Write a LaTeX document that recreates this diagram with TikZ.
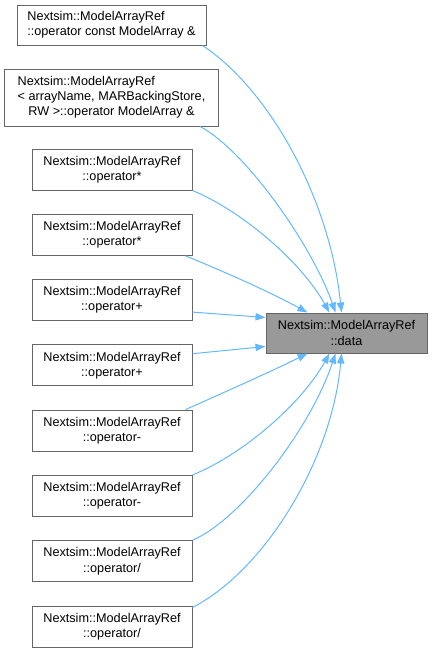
\documentclass[tikz,border=0pt]{standalone}
\usepackage{fontspec}
\setmainfont{Liberation Sans}
\usetikzlibrary{arrows.meta,calc}
\definecolor{edgeblue}{HTML}{63B8FF}
\definecolor{boxborder}{HTML}{666666}
\definecolor{datafill}{HTML}{999999}
\begin{document}
\begin{tikzpicture}[x=0.75pt,y=-0.75pt,
  every node/.style={font=\fontsize{9.5}{11.3}\selectfont, inner sep=0pt},
  fnbox/.style={draw=boxborder, line width=0.75pt, fill=white, minimum width=120pt, minimum height=30.75pt, align=center},
  databox/.style={draw=boxborder, line width=0.75pt, fill=datafill, minimum width=120.75pt, minimum height=30pt, align=center},
  calledge/.style={draw=edgeblue, line width=0.75pt, -{Triangle[length=7.5pt,width=5.5pt]}}
]
\useasboundingbox (0,0) rectangle (432,653);
\renewcommand\arraystretch{1}
\setlength\tabcolsep{0pt}

\node[fnbox, minimum width=141.75pt, minimum height=30pt] (b1) at (111.5,25)
  {\begin{tabular}{l}Nextsim::ModelArrayRef\\::operator const ModelArray \&\end{tabular}};
\node[fnbox, minimum width=160.5pt, minimum height=42.75pt] (b2) at (111.5,97.5)
  {\begin{tabular}{l}Nextsim::ModelArrayRef\\< arrayName, MARBackingStore,\\\multicolumn{1}{c}{RW >::operator ModelArray \&}\end{tabular}};
\node[fnbox] (b3) at (112,169.5) {Nextsim::ModelArrayRef\\::operator*};
\node[fnbox] (b4) at (112,234.8) {Nextsim::ModelArrayRef\\::operator*};
\node[fnbox] (b5) at (112,300.1) {Nextsim::ModelArrayRef\\::operator+};
\node[fnbox] (b6) at (112,365.4) {Nextsim::ModelArrayRef\\::operator+};
\node[fnbox] (b7) at (112,430.6) {Nextsim::ModelArrayRef\\::operator-};
\node[fnbox] (b8) at (112,495.9) {Nextsim::ModelArrayRef\\::operator-};
\node[fnbox] (b9) at (112,561.2) {Nextsim::ModelArrayRef\\::operator/};
\node[fnbox] (b10) at (112,626.5) {Nextsim::ModelArrayRef\\::operator/};

\node[databox] (data) at (346.5,333) {Nextsim::ModelArrayRef\\::data};

\draw[calledge] ($(b1.south east)+(-4,0)$) .. controls (270,90) and (330,200) .. ($(data.north west)+(76,0)$);
\draw[calledge] ($(b2.south east)+(-19,0)$) .. controls (245,150) and (312,245) .. ($(data.north west)+(70,0)$);
\draw[calledge] (b3.south east) .. controls (240,210) and (300,260) .. ($(data.north west)+(64,0)$);
\draw[calledge] ($(b4.south east)+(-7,0)$) .. controls (225,272) and (270,292) .. ($(data.north west)+(42,0)$);
\draw[calledge] ($(b5.south east)+(0,-9)$) -- ($(data.north west)+(0,5)$);
\draw[calledge] ($(b6.north east)+(0,9.3)$) -- ($(data.south west)+(0,-7)$);
\draw[calledge] ($(b7.north east)+(-7,0)$) .. controls (225,392) and (270,372) .. ($(data.south west)+(42,0)$);
\draw[calledge] (b8.north east) .. controls (240,456) and (300,406) .. ($(data.south west)+(64,0)$);
\draw[calledge] (b9.north east) .. controls (240,520) and (310,430) .. ($(data.south west)+(70,0)$);
\draw[calledge] ($(b10.north east)+(0,2)$) .. controls (265,570) and (332,460) .. ($(data.south west)+(76,0)$);
\end{tikzpicture}
\end{document}
